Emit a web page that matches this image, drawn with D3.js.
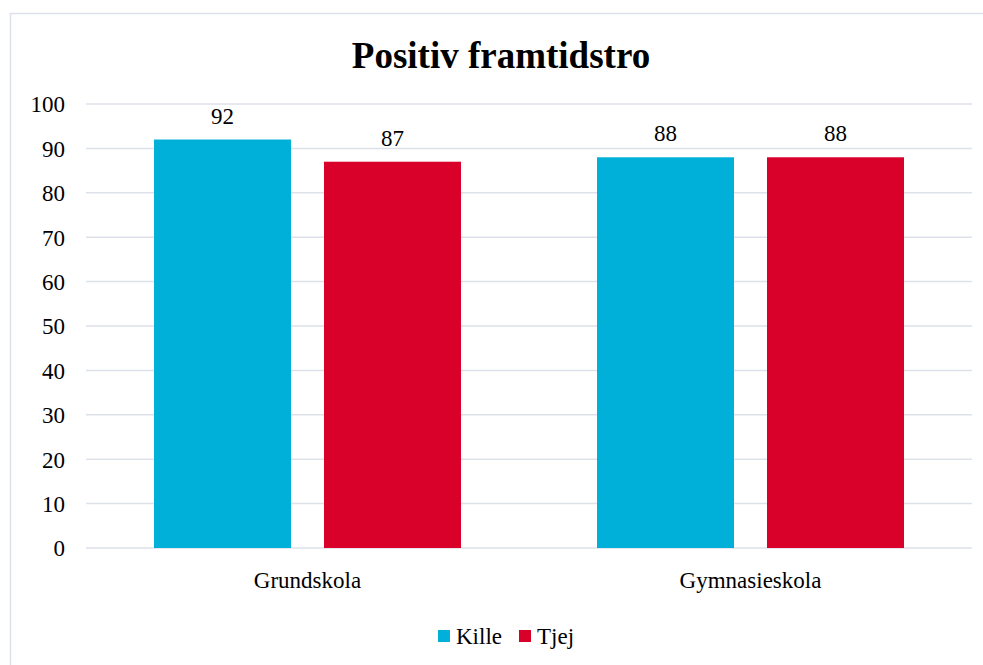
<!DOCTYPE html>
<html><head><meta charset="utf-8">
<script src="https://cdn.jsdelivr.net/npm/d3@7"></script>
</head>
<body style="margin:0;padding:0;background:#fff">
<svg id="fig" width="983" height="665" style="display:block;font-family:'Liberation Serif',serif"></svg>
<script>
const title = "Positiv framtidstro";
const categories = ["Grundskola", "Gymnasieskola"];
const seriesNames = ["Kille", "Tjej"];
const killeValues = [92, 88];
const tjejValues = [87, 88];
const yTicks = [0, 10, 20, 30, 40, 50, 60, 70, 80, 90, 100];
const colors = ["#00B0D8", "#D9002A"];

(function () {
const FONT = "'Liberation Serif', 'Times New Roman', serif";
const series = [killeValues, tjejValues];
const svg = d3.select("#fig");
const W = 983, H = 665;

// chart border
svg.append("rect").attr("x", 10.5).attr("y", 13.5).attr("width", W).attr("height", H)
  .attr("fill", "#fff").attr("stroke", "#DDE2EA").attr("stroke-width", 1.5);

const mLeft = 86, mRight = 972, mTop = 104, mBottom = 548;
const x0 = d3.scaleBand().domain(categories).range([mLeft, mRight]).paddingInner(0).paddingOuter(0);
const x1 = d3.scaleBand().domain(seriesNames).range([68, x0.bandwidth() - 68]).paddingInner(33/170).paddingOuter(0);
const y = d3.scaleLinear().domain([0, 100]).range([mBottom, mTop]);

// gridlines
svg.append("g").selectAll("line").data(yTicks).join("line")
  .attr("x1", mLeft).attr("x2", mRight)
  .attr("y1", d => y(d)).attr("y2", d => y(d))
  .attr("stroke", "#DDE2EA").attr("stroke-width", 1.5);

// y axis labels
const yAxis = d3.axisLeft(y).tickValues(yTicks).tickSize(0).tickPadding(0);
const gy = svg.append("g").attr("transform", `translate(65,0)`).call(yAxis);
gy.select(".domain").remove();
gy.attr("font-family", null).attr("font-size", null);
gy.selectAll("text").style("font-family", FONT).style("font-size", "23px").attr("fill", "#000").attr("dy", "0.34em");

// bars
const groups = svg.append("g").selectAll("g").data(categories).join("g")
  .attr("transform", d => `translate(${x0(d)},0)`);
groups.selectAll("rect").data((c, i) => seriesNames.map((s, j) => ({s, v: series[j][i], j})))
  .join("rect")
  .attr("x", d => x1(d.s)).attr("width", x1.bandwidth())
  .attr("y", d => y(d.v)).attr("height", d => y(0) - y(d.v))
  .attr("fill", d => colors[d.j]);
groups.selectAll("text.lbl").data((c, i) => seriesNames.map((s, j) => ({s, v: series[j][i], j})))
  .join("text").attr("class", "lbl")
  .attr("x", d => x1(d.s) + x1.bandwidth() / 2).attr("y", d => y(d.v) - 16)
  .attr("text-anchor", "middle").style("font-family", FONT).style("font-size", "23px").attr("fill", "#000").text(d => d.v);

// x axis labels
const xAxis = d3.axisBottom(x0).tickSize(0).tickPadding(0);
const gx = svg.append("g").attr("transform", `translate(0,${mBottom + 32})`).call(xAxis);
gx.select(".domain").remove();
gx.attr("font-family", null).attr("font-size", null);
gx.selectAll("text").style("font-family", FONT).style("font-size", "23px").attr("fill", "#000").attr("dy", "0.34em");

// title
svg.append("text").attr("x", 501).attr("y", 68).attr("text-anchor", "middle")
  .style("font-family", FONT).style("font-size", "37px").style("font-weight", "bold").attr("fill", "#000").text(title);

// legend
const legendX = [438, 519];
const lg = svg.append("g").selectAll("g").data(seriesNames).join("g")
  .attr("transform", (d, i) => `translate(${legendX[i]},630)`);
lg.append("rect").attr("width", 12).attr("height", 12).attr("fill", (d, i) => colors[i]);
lg.append("text").attr("x", 18).attr("y", 6).attr("dy", "0.34em")
  .style("font-family", FONT).style("font-size", "23px").attr("fill", "#000").text(d => d);
})();
</script>
</body></html>
